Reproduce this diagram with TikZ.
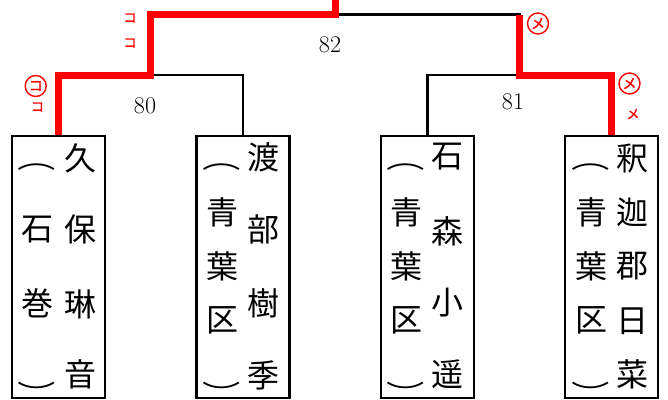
\documentclass[tikz,border=0pt]{standalone}
\usepackage{fontspec}
\newfontfamily\jp{Noto Sans CJK JP}
\newfontfamily\jpb[FakeBold=1.5]{Noto Sans CJK JP}
\newcommand{\opn}{\scalebox{1.2}[0.8]{︵}}
\newcommand{\cls}{\scalebox{1.2}[0.8]{︶}}
\begin{document}
\begin{tikzpicture}[x=1pt,y=-1pt,
  wire/.style={line width=2.7pt,black},
  win/.style={line width=7pt,red},
  entry/.style={draw,line width=2.8pt,minimum width=93pt,minimum height=262pt,inner sep=0pt},
  cj/.style={font=\jp\fontsize{32}{32}\selectfont,inner sep=0pt},
  num/.style={font=\fontsize{24}{24}\selectfont,inner sep=0pt},
  mk/.style={red,font=\jpb\fontsize{13}{13}\selectfont,inner sep=0pt},
  cmk/.style={red,draw,circle,line width=1.4pt,minimum size=21pt,inner sep=0pt,font=\jpb\fontsize{14}{14}\selectfont}]
\useasboundingbox (0,0) rectangle (668,399);
% boxes
\node[entry] (b1) at (58.5,267) {};
\node[entry] (b2) at (243,267) {};
\node[entry] (b3) at (427.5,267) {};
\node[entry] (b4) at (611.5,267) {};
% junctions
\coordinate (j80) at (150,75);
\coordinate (j81) at (519.5,75);
\coordinate (j82) at (335,14.5);
\coordinate (top) at (335,-2);
% black bracket lines
\draw[wire] (b1.north) |- (j80) -| (b2.north);
\draw[wire] (b3.north) |- (j81) -| (b4.north);
\draw[wire] (j80) |- (j82) -| (j81);
% red winning path
\draw[win] (b1.north) |- (j80) |- (j82) -- (top);
\draw[win] (j81 |- j82) -- (j81) -| (b4.north);
% match numbers
\node[num] (m80) at (145,106) {80};
\node[num] (m81) at (513,102) {81};
\node[num] (m82) at (330,45) {82};
% marks
\node[mk] (k1) at (130,18) {コ};
\node[mk] (k2) at (130,43) {コ};
\node[cmk] (k3) at (35.7,86) {コ};
\node[mk] (k4) at (37.5,107) {コ};
\node[cmk] (k5) at (538,23.5) {メ};
\node[cmk] (k6) at (629.5,83.5) {メ};
\node[mk] (k7) at (633,114) {メ};
% names
\foreach \c/\y [count=\i] in {久/158,保/229,琳/304,音/374}
  \node[cj] (r1\i) at (80,\y) {\c};
\foreach \c/\y [count=\i] in {\opn/167,石/230,巻/303,\cls/393}
  \node[cj] (l1\i) at (37,\y) {\c};
\foreach \c/\y [count=\i] in {渡/157,部/229,樹/303,季/375}
  \node[cj] (r2\i) at (263,\y) {\c};
\foreach \c/\y [count=\i] in {\opn/167,青/212,葉/266,区/320,\cls/393}
  \node[cj] (l2\i) at (222,\y) {\c};
\foreach \c/\y [count=\i] in {石/157,森/231,小/303,遥/374}
  \node[cj] (r3\i) at (447,\y) {\c};
\foreach \c/\y [count=\i] in {\opn/167,青/212,葉/266,区/320,\cls/393}
  \node[cj] (l3\i) at (406,\y) {\c};
\foreach \c/\y [count=\i] in {釈/158,迦/212,郡/266,日/321,菜/374}
  \node[cj] (r4\i) at (632,\y) {\c};
\foreach \c/\y [count=\i] in {\opn/167,青/212,葉/266,区/320,\cls/393}
  \node[cj] (l4\i) at (591,\y) {\c};
\end{tikzpicture}
\end{document}
